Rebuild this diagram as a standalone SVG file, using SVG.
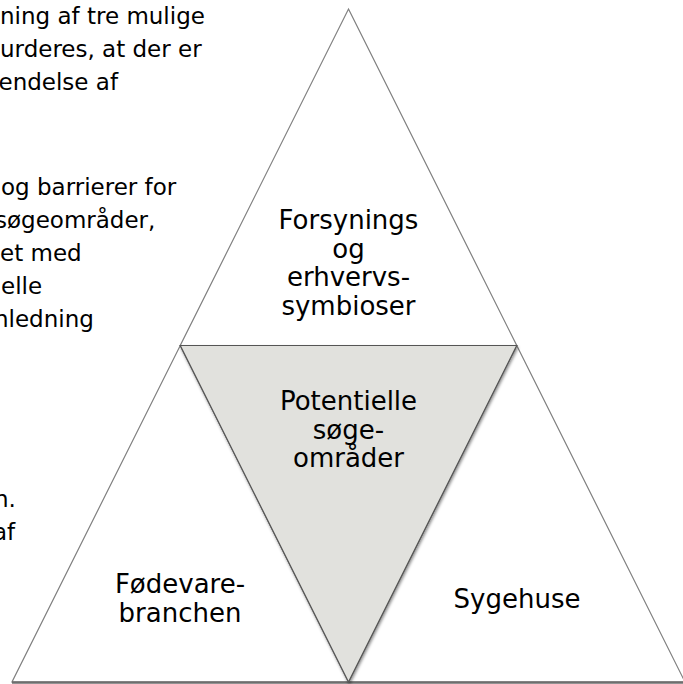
<svg xmlns="http://www.w3.org/2000/svg" width="683" height="684" viewBox="0 0 683 684">
  <style>
    .body { font-family: "DejaVu Sans", Verdana, sans-serif; font-size: 23px; fill: #000; }
    .lbl { font-family: "DejaVu Sans", Verdana, sans-serif; font-size: 26px; fill: #000; text-anchor: middle; }
    .tri { fill: #ffffff; stroke: #808080; stroke-width: 1.2; stroke-linejoin: miter; }
    .mid { fill: #e1e1dd; stroke: #555555; stroke-width: 1.2; }
  </style>
  <defs>
    <filter id="soft" x="-10%" y="-10%" width="120%" height="120%">
      <feGaussianBlur in="SourceAlpha" stdDeviation="1.5"/>
      <feOffset dx="1" dy="1.5" result="b"/>
      <feComponentTransfer><feFuncA type="linear" slope="0.45"/></feComponentTransfer>
      <feMerge><feMergeNode/><feMergeNode in="SourceGraphic"/></feMerge>
    </filter>
  </defs>
  <rect width="683" height="684" fill="#ffffff"/>

  <!-- body text running in from the left margin -->
  <g id="body-text" class="body">
    <text x="0" y="24">ning af tre mulige</text>
    <text x="0" y="57">urderes, at der er</text>
    <text x="-1.5" y="90">endelse af</text>
    <text x="1" y="195">og barrierer for</text>
    <text x="-5" y="228">søgeområder,</text>
    <text x="0" y="261">et med</text>
    <text x="1" y="294">elle</text>
    <text x="-6" y="327">nledning</text>
    <text x="-6" y="507">n.</text>
    <text x="-7" y="540">af</text>
  </g>

  <g id="connectors"/>

  <!-- top segment -->
  <g id="node-top">
    <polygon class="tri" points="348.5,9 516.75,345.5 180.25,345.5"/>
    <text class="lbl" x="348.5" y="229">Forsynings</text>
    <text class="lbl" x="348.5" y="257.5">og</text>
    <text class="lbl" x="348.5" y="286">erhvervs-</text>
    <text class="lbl" x="348.5" y="314.5">symbioser</text>
  </g>

  <!-- bottom-left segment -->
  <g id="node-left">
    <polygon class="tri" points="180.25,345.5 348.5,682 12,682"/>
    <text class="lbl" x="180" y="593">Fødevare-</text>
    <text class="lbl" x="180" y="621.5">branchen</text>
  </g>

  <!-- bottom-right segment -->
  <g id="node-right">
    <polygon class="tri" points="516.75,345.5 685,682 348.5,682"/>
    <text class="lbl" x="517" y="608">Sygehuse</text>
  </g>

  <!-- base rule under the bottom row -->
  <line x1="12" y1="682.5" x2="683" y2="682.5" stroke="#6e6e6e" stroke-width="2.5"/>

  <!-- centre (inverted) segment -->
  <g id="node-center">
    <polygon class="mid" filter="url(#soft)" points="180.25,345.5 516.75,345.5 348.5,682"/>
    <text class="lbl" x="348.5" y="410">Potentielle</text>
    <text class="lbl" x="348.5" y="438.5">søge-</text>
    <text class="lbl" x="348.5" y="467">områder</text>
  </g>
</svg>
